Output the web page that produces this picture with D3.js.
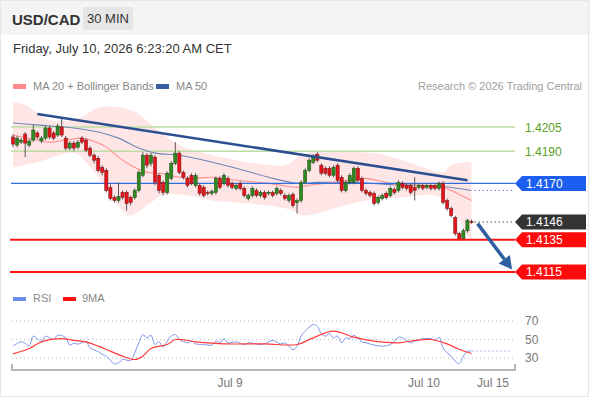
<!DOCTYPE html>
<html><head><meta charset="utf-8">
<script src="https://cdn.jsdelivr.net/npm/d3@7"></script>
<style>body{margin:0;background:#fff}svg{display:block;font-family:"Liberation Sans",Arial,sans-serif}</style>
</head><body><svg id="c" width="590" height="400"></svg>
<script>
const pair = "USD/CAD", period = "30 MIN", dateText = "Friday, July 10, 2026 6:23:20 AM CET";
const opens = [1.41988,1.41938,1.41956,1.42006,1.41938,1.41969,1.42013,1.41963,1.41981,1.42044,1.42013,1.42000,1.42050,1.41981,1.41919,1.41950,1.41925,1.41981,1.41969,1.41919,1.41875,1.41856,1.41800,1.41781,1.41675,1.41613,1.41594,1.41644,1.41644,1.41613,1.41613,1.41656,1.41750,1.41875,1.41825,1.41863,1.41750,1.41706,1.41644,1.41731,1.41825,1.41888,1.41769,1.41731,1.41750,1.41688,1.41688,1.41675,1.41644,1.41638,1.41644,1.41731,1.41700,1.41731,1.41700,1.41669,1.41700,1.41669,1.41606,1.41625,1.41656,1.41625,1.41644,1.41638,1.41644,1.41638,1.41656,1.41625,1.41594,1.41631,1.41581,1.41594,1.41706,1.41781,1.41831,1.41881,1.41813,1.41794,1.41794,1.41750,1.41813,1.41738,1.41656,1.41706,1.41706,1.41794,1.41731,1.41656,1.41644,1.41638,1.41581,1.41606,1.41638,1.41625,1.41663,1.41656,1.41700,1.41688,1.41688,1.41675,1.41675,1.41688,1.41675,1.41688,1.41688,1.41669,1.41700,1.41594,1.41544,1.41488,1.41388,1.41356,1.41406,1.41463];
const highs = [1.42006,1.41994,1.41981,1.42019,1.41975,1.42063,1.42025,1.41994,1.42056,1.42056,1.42025,1.42069,1.42106,1.41994,1.41963,1.41963,1.41969,1.41994,1.41981,1.41931,1.41888,1.41869,1.41813,1.41794,1.41694,1.41625,1.41706,1.41656,1.41656,1.41625,1.41669,1.41781,1.41894,1.41888,1.41888,1.41875,1.41763,1.41719,1.41775,1.41838,1.41956,1.41900,1.41781,1.41744,1.41763,1.41763,1.41700,1.41688,1.41656,1.41663,1.41744,1.41744,1.41763,1.41744,1.41713,1.41700,1.41713,1.41681,1.41638,1.41681,1.41669,1.41656,1.41656,1.41656,1.41656,1.41681,1.41669,1.41638,1.41638,1.41644,1.41606,1.41719,1.41794,1.41856,1.41881,1.41894,1.41825,1.41806,1.41806,1.41813,1.41825,1.41750,1.41719,1.41763,1.41806,1.41806,1.41744,1.41669,1.41656,1.41650,1.41625,1.41638,1.41650,1.41681,1.41675,1.41719,1.41713,1.41700,1.41700,1.41738,1.41700,1.41700,1.41700,1.41700,1.41700,1.41713,1.41713,1.41606,1.41556,1.41500,1.41400,1.41419,1.41481,1.41475];
const lows = [1.41925,1.41925,1.41944,1.41863,1.41925,1.41956,1.41975,1.41950,1.41969,1.41975,1.41969,1.41988,1.41988,1.41906,1.41906,1.41900,1.41913,1.41944,1.41894,1.41863,1.41825,1.41769,1.41750,1.41644,1.41594,1.41581,1.41581,1.41600,1.41531,1.41563,1.41600,1.41644,1.41738,1.41794,1.41806,1.41688,1.41638,1.41625,1.41631,1.41719,1.41813,1.41756,1.41725,1.41675,1.41688,1.41675,1.41625,1.41613,1.41625,1.41625,1.41631,1.41663,1.41688,1.41675,1.41663,1.41656,1.41656,1.41613,1.41594,1.41613,1.41613,1.41613,1.41600,1.41625,1.41613,1.41625,1.41625,1.41594,1.41581,1.41550,1.41513,1.41581,1.41694,1.41769,1.41819,1.41831,1.41750,1.41750,1.41738,1.41738,1.41706,1.41644,1.41644,1.41694,1.41694,1.41706,1.41644,1.41625,1.41613,1.41563,1.41569,1.41594,1.41600,1.41613,1.41631,1.41644,1.41663,1.41656,1.41631,1.41594,1.41663,1.41656,1.41663,1.41656,1.41656,1.41656,1.41569,1.41531,1.41488,1.41375,1.41344,1.41344,1.41394,1.41450];
const closes = [1.41944,1.41981,1.41969,1.41950,1.41963,1.42031,1.41988,1.41981,1.42044,1.41988,1.41981,1.42056,1.42000,1.41919,1.41950,1.41919,1.41956,1.41956,1.41906,1.41875,1.41844,1.41781,1.41769,1.41656,1.41606,1.41594,1.41619,1.41613,1.41575,1.41581,1.41656,1.41769,1.41875,1.41813,1.41875,1.41706,1.41656,1.41644,1.41763,1.41825,1.41888,1.41769,1.41738,1.41688,1.41700,1.41750,1.41638,1.41625,1.41638,1.41650,1.41731,1.41675,1.41750,1.41688,1.41675,1.41688,1.41669,1.41625,1.41625,1.41669,1.41625,1.41644,1.41613,1.41644,1.41625,1.41669,1.41638,1.41606,1.41625,1.41563,1.41594,1.41706,1.41781,1.41844,1.41863,1.41844,1.41763,1.41763,1.41750,1.41800,1.41719,1.41656,1.41706,1.41750,1.41794,1.41719,1.41656,1.41638,1.41625,1.41575,1.41613,1.41625,1.41613,1.41669,1.41644,1.41706,1.41675,1.41669,1.41644,1.41656,1.41688,1.41669,1.41688,1.41669,1.41669,1.41700,1.41581,1.41544,1.41500,1.41388,1.41356,1.41406,1.41469,1.41460];

const bbUpIdx = [0,3,6,9,13,17,21,25,30,35,41,47,55,60,67,71,74,84,89,96,101,106,108,111,113];
const bbUpVal = [1.42206,1.42188,1.42138,1.42094,1.42088,1.42113,1.42169,1.42175,1.42144,1.42044,1.41938,1.41888,1.41844,1.41825,1.41813,1.41875,1.41894,1.41894,1.41888,1.41844,1.41800,1.41769,1.41813,1.41831,1.41831];
const bbLoIdx = [0,6,15,18,23,27,29,33,37,43,49,55,63,69,71,75,79,87,96,104,107,110,112,113];
const bbLoVal = [1.41800,1.41831,1.41888,1.41831,1.41669,1.41531,1.41500,1.41563,1.41625,1.41625,1.41594,1.41581,1.41563,1.41531,1.41500,1.41513,1.41544,1.41594,1.41613,1.41625,1.41575,1.41469,1.41375,1.41344];
const ma20Idx = [0,6,9,13,17,19,23,26,29,33,36,41,44,49,55,63,70,73,79,84,87,92,96,101,106,109,113];
const ma20Val = [1.42000,1.41969,1.41956,1.41969,1.41981,1.41969,1.41925,1.41863,1.41813,1.41769,1.41763,1.41738,1.41731,1.41738,1.41719,1.41700,1.41675,1.41688,1.41706,1.41725,1.41731,1.41706,1.41688,1.41688,1.41675,1.41644,1.41594];
const ma50Idx = [0,6,15,21,26,31,35,41,47,55,63,70,75,84,92,100,106,113];
const ma50Val = [1.42075,1.42063,1.42044,1.42019,1.41981,1.41919,1.41888,1.41875,1.41844,1.41794,1.41738,1.41700,1.41706,1.41706,1.41694,1.41688,1.41681,1.41656];
const trendIdx = [6,112];
const trendVal = [1.42131,1.41719];
const resistances = [1.4205,1.4190];
const pivot = 1.4170;
const lastPrice = 1.4146;
const supports = [1.4135,1.4115];
const arrowIdx = [114.5,123];
const arrowVal = [1.4145,1.41165];

const rsiIdx = [0,2,3,4,5,7,8,10,11,13,14,15,16,18,19,21,22,23,25,26,27,29,30,31,32,33,34,35,36,37,38,39,40,41,43,44,45,47,49,50,51,52,53,55,57,58,61,62,64,66,67,68,69,70,71,72,74,75,76,77,78,79,80,81,82,83,84,86,87,89,91,93,94,95,96,98,99,101,103,104,105,106,107,108,109,110,111,112,113];
const rsiVal = [43,47.5,46,43,53.6,48,53.6,50,54.7,52,44,46,45,47.5,41,37,34,32,23.7,24.8,28.4,27.3,35.6,46.4,55.4,51.8,54.6,44.6,47.5,41.7,48.2,53.6,55.4,50,46.4,48.2,45.3,44.6,44,48.2,46.4,50.7,46.4,47.5,44.6,46.4,44.6,45.3,49,45.3,46.4,42.8,39,42.8,53.6,59,66.2,64.4,56.2,53.6,56.2,51.8,53.6,46.4,51.8,51,54.6,47.5,46.4,44,42.8,44.6,48.2,52.5,51.8,46.4,48.2,50.7,51,49,52.5,41,35.6,32,26.6,24,32,37.4,37.4];
const rsiMaIdx = [0,4,7,12,15,18,21,24,27,30,32,34,38,40,45,52,62,70,74,79,84,89,95,99,103,107,110,113];
const rsiMaVal = [34.5,40.3,47.5,51,49,47.5,42.8,37.4,32,28.4,32,40.3,44.6,50,47.5,45.3,45.3,44.6,51.8,59,52.5,48.2,46.4,49,50,45.3,39.2,34.9];
const rsiLevels = [70,50,30];
const tickLabels = ["Jul 9","Jul 10","Jul 15"];
const tickIdx = [53.5,101.3,118.3];

const svg = d3.select("#c");
const x = d3.scaleLinear().domain([0,113]).range([13,471.5]);
const y = d3.scaleLinear().domain([1.4115,1.4205]).range([272,127]);
const yr = d3.scaleLinear().domain([30,70]).range([358,321]);
const L = 11, R = 515;

// frame
svg.append("rect").attr("x",0).attr("y",0).attr("width",590).attr("height",35).attr("fill","#f4f4f4");
svg.append("rect").attr("x",0.5).attr("y",0.5).attr("width",588).attr("height",396).attr("fill","none").attr("stroke","#e6e6e6");

// header
svg.append("text").attr("x",12).attr("y",25).attr("font-size",15).attr("font-weight","bold").attr("fill","#333").text(pair);
svg.append("rect").attr("x",83).attr("y",7).attr("width",50).attr("height",23).attr("fill","#e6e6e6");
svg.append("text").attr("x",108).attr("y",23).attr("text-anchor","middle").attr("font-size",13).attr("fill","#333").text(period);
svg.append("text").attr("x",13).attr("y",53).attr("font-size",13).attr("fill","#333").text(dateText);

// legend
svg.append("rect").attr("x",13).attr("y",84).attr("width",13).attr("height",5).attr("fill","#ff8a8a");
svg.append("text").attr("x",33).attr("y",90).attr("font-size",11).attr("fill","#888").text("MA 20 + Bollinger Bands");
svg.append("rect").attr("x",156).attr("y",84).attr("width",13).attr("height",5).attr("fill","#3a5f9f");
svg.append("text").attr("x",176).attr("y",90).attr("font-size",11).attr("fill","#888").text("MA 50");
svg.append("text").attr("x",582).attr("y",90).attr("text-anchor","end").attr("font-size",11).attr("fill","#a0a0a0").text("Research \u00a9 2026 Trading Central");

// Bollinger area
const curve = d3.curveCatmullRom.alpha(0.5);
const lineG = d3.line().x(d=>x(d[0])).y(d=>y(d[1])).curve(curve);
const up = bbUpIdx.map((v,i)=>[v,bbUpVal[i]]);
const lo = bbLoIdx.map((v,i)=>[v,bbLoVal[i]]).reverse();
svg.append("path").attr("d", lineG(up) + lineG(lo).replace(/^M/,"L") + "Z").attr("fill","#ffe3e3").attr("opacity",0.9);

// horizontal levels
resistances.forEach(v=>{
  svg.append("line").attr("x1",L).attr("x2",R).attr("y1",y(v)).attr("y2",y(v)).attr("stroke","#bcdca4").attr("stroke-width",1.5);
  svg.append("text").attr("x",525).attr("y",y(v)+4.5).attr("font-size",12).attr("fill","#5a9e22").text(v.toFixed(4));
});

// MA lines
svg.append("path").attr("d",lineG(ma50Idx.map((v,i)=>[v,ma50Val[i]]))).attr("fill","none").attr("stroke","#6f86b8").attr("stroke-width",1.1);
svg.append("path").attr("d",lineG(ma20Idx.map((v,i)=>[v,ma20Val[i]]))).attr("fill","none").attr("stroke","#ff8d8d").attr("stroke-width",1.1);

// pivot line
svg.append("line").attr("x1",L).attr("x2",R).attr("y1",y(pivot)).attr("y2",y(pivot)).attr("stroke","#2f6fe4").attr("stroke-width",1.2);

// candles
const n = closes.length;
const g = svg.append("g");
d3.range(n).forEach(i=>{
  const o=opens[i], c=closes[i], up=c>=o;
  g.append("line").attr("x1",x(i)).attr("x2",x(i)).attr("y1",y(highs[i])).attr("y2",y(lows[i])).attr("stroke","#555").attr("stroke-width",1);
  const top=y(Math.max(o,c)), bot=y(Math.min(o,c));
  g.append("rect").attr("x",x(i)-1.6).attr("width",3.2).attr("y",top).attr("height",Math.max(1,bot-top))
    .attr("fill",up?"#2e8a20":"#e3141b").attr("stroke",up?"#1f4d16":"#7a1515").attr("stroke-width",0.5);
});

// trend line
svg.append("line").attr("x1",x(trendIdx[0])).attr("y1",y(trendVal[0])).attr("x2",x(trendIdx[1])).attr("y2",y(trendVal[1]))
  .attr("stroke","#2c4f92").attr("stroke-width",2.5);

// extensions
svg.append("line").attr("x1",x(n-1)+3).attr("x2",512).attr("y1",y(ma50Val[ma50Val.length-1])).attr("y2",y(ma50Val[ma50Val.length-1]))
  .attr("stroke","#6f8fd8").attr("stroke-width",1).attr("stroke-dasharray","1.5,2.5");
svg.append("line").attr("x1",x(n-1)+3).attr("x2",512).attr("y1",y(lastPrice)).attr("y2",y(lastPrice))
  .attr("stroke","#555").attr("stroke-width",1).attr("stroke-dasharray","1.5,2.5");

// supports
supports.forEach(v=>{
  svg.append("line").attr("x1",L-1).attr("x2",R).attr("y1",y(v)).attr("y2",y(v)).attr("stroke","#ff1414").attr("stroke-width",2);
});

// arrow
const ax1=x(arrowIdx[0]), ay1=y(arrowVal[0]), ax2=x(arrowIdx[1]), ay2=y(arrowVal[1]);
const ang=Math.atan2(ay2-ay1, ax2-ax1), hl=13, hw=7;
const bx=ax2-hl*Math.cos(ang), by=ay2-hl*Math.sin(ang);
svg.append("line").attr("x1",ax1).attr("y1",ay1).attr("x2",bx).attr("y2",by).attr("stroke","#2d5e9f").attr("stroke-width",3.5);
svg.append("path").attr("d",`M${ax2},${ay2}L${bx+hw*Math.sin(ang)},${by-hw*Math.cos(ang)}L${bx-hw*Math.sin(ang)},${by+hw*Math.cos(ang)}Z`).attr("fill","#2d5e9f");

// boxed labels
function tag(v,fill){
  const yc=y(v);
  svg.append("path").attr("d",`M515,${yc}L522,${yc-7.5}L586,${yc-7.5}L586,${yc+7.5}L522,${yc+7.5}Z`).attr("fill",fill);
  svg.append("text").attr("x",526).attr("y",yc+4.3).attr("font-size",12).attr("fill","#fff").text(v.toFixed(4));
}
tag(pivot,"#1c5ff0");
tag(lastPrice,"#333333");
supports.forEach(v=>tag(v,"#ff0a0a"));

// RSI legend
svg.append("rect").attr("x",13).attr("y",297).attr("width",13).attr("height",4).attr("fill","#6b8de8");
svg.append("text").attr("x",33).attr("y",302).attr("font-size",11).attr("fill","#888").text("RSI");
svg.append("rect").attr("x",63).attr("y",297).attr("width",13).attr("height",4).attr("fill","#ff1010");
svg.append("text").attr("x",82).attr("y",302).attr("font-size",11).attr("fill","#888").text("9MA");

rsiLevels.forEach(v=>{
  svg.append("line").attr("x1",12).attr("x2",R).attr("y1",yr(v)).attr("y2",yr(v)).attr("stroke","#bbb").attr("stroke-dasharray","1,3");
  svg.append("text").attr("x",525).attr("y",yr(v)+4).attr("font-size",12).attr("fill","#777").text(v);
});
const lineR = d3.line().x(d=>x(d[0])).y(d=>yr(d[1])).curve(curve);
svg.append("path").attr("d",lineR(rsiIdx.map((v,i)=>[v,rsiVal[i]]))).attr("fill","none").attr("stroke","#7d97ea").attr("stroke-width",1);
svg.append("path").attr("d",lineR(rsiMaIdx.map((v,i)=>[v,rsiMaVal[i]]))).attr("fill","none").attr("stroke","#ff3a3a").attr("stroke-width",1.2);
svg.append("line").attr("x1",x(n-1)+1).attr("x2",512).attr("y1",yr(rsiVal[rsiVal.length-1])).attr("y2",yr(rsiVal[rsiVal.length-1]))
  .attr("stroke","#9cb2f0").attr("stroke-width",1).attr("stroke-dasharray","1.5,2.5");

// time axis
svg.append("path").attr("d",`M${L+1},364V370H${R}V364`).attr("fill","none").attr("stroke","#b5b5b5").attr("stroke-width",2);
tickLabels.forEach((t,i)=>{
  svg.append("text").attr("x",x(tickIdx[i])).attr("y",387).attr("text-anchor","middle").attr("font-size",12).attr("fill","#777").text(t);
});
</script></body></html>
